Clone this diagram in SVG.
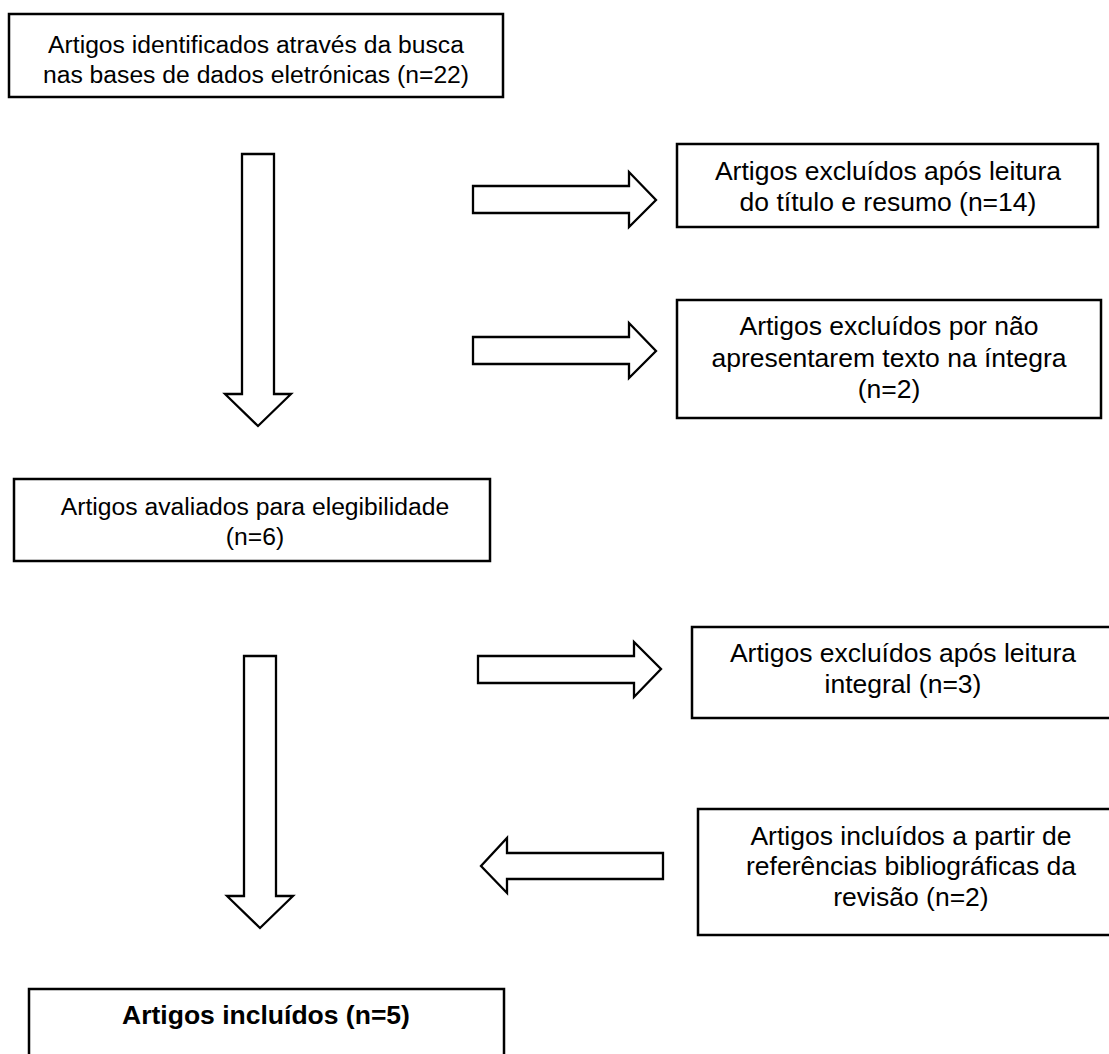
<svg xmlns="http://www.w3.org/2000/svg" width="1109" height="1054" viewBox="0 0 1109 1054">
  <style>
    .box { fill: #fff; stroke: #000; stroke-width: 2.5; }
    .arrow { fill: #fff; stroke: #000; stroke-width: 2.3; stroke-linejoin: miter; }
    text { font-family: "Liberation Sans", Arial, sans-serif; fill: #000; text-anchor: middle; }
    .main { font-size: 24.7px; }
    .side { font-size: 26.5px; }
    .bold { font-size: 26.5px; font-weight: bold; }
  </style>
  <rect width="1109" height="1054" fill="#fff"/>

  <!-- block arrows -->
  <g id="connectors">
    <!-- main flow, first stage -->
    <path class="arrow" d="M242,154 L274,154 L274,394 L291,394 L258,426 L225,394 L242,394 Z"/>
    <!-- exclusions, first stage -->
    <path class="arrow" d="M473,186 L629,186 L629,172 L656,200 L629,227 L629,213 L473,213 Z"/>
    <path class="arrow" d="M473,337 L629,337 L629,323 L656,351 L629,378 L629,364 L473,364 Z"/>
    <!-- main flow, second stage -->
    <path class="arrow" d="M244,656 L276,656 L276,896 L293,896 L260,928 L227,896 L244,896 Z"/>
    <!-- exclusion, second stage -->
    <path class="arrow" d="M478,656 L634,656 L634,642 L661,669 L634,697 L634,683 L478,683 Z"/>
    <!-- added from references -->
    <path class="arrow" d="M663,853 L507,853 L507,838 L481,866 L507,893 L507,879 L663,879 Z"/>
  </g>

  <g id="identified">
    <rect class="box" x="9" y="14" width="494" height="83"/>
    <text class="main" x="256" y="53">Artigos identificados através da busca</text>
    <text class="main" x="256" y="83">nas bases de dados eletrónicas (n=22)</text>
  </g>

  <g id="excluded-title">
    <rect class="box" x="677" y="144" width="421" height="83"/>
    <text class="side" x="888" y="180">Artigos excluídos após leitura</text>
    <text class="side" x="888" y="211">do título e resumo (n=14)</text>
  </g>

  <g id="excluded-fulltext">
    <rect class="box" x="677" y="300" width="424" height="118"/>
    <text class="side" x="889" y="335">Artigos excluídos por não</text>
    <text class="side" x="889" y="367">apresentarem texto na íntegra</text>
    <text class="side" x="889" y="398">(n=2)</text>
  </g>

  <g id="eligible">
    <rect class="box" x="14" y="479" width="476" height="82"/>
    <text class="main" x="255" y="515">Artigos avaliados para elegibilidade</text>
    <text class="main" x="255" y="545">(n=6)</text>
  </g>

  <g id="excluded-reading">
    <rect class="box" x="692" y="627" width="422" height="91"/>
    <text class="side" x="903" y="662">Artigos excluídos após leitura</text>
    <text class="side" x="903" y="693">integral (n=3)</text>
  </g>

  <g id="added-references">
    <rect class="box" x="698" y="809" width="424" height="126"/>
    <text class="side" x="911" y="845">Artigos incluídos a partir de</text>
    <text class="side" x="911" y="875">referências bibliográficas da</text>
    <text class="side" x="911" y="906">revisão (n=2)</text>
  </g>

  <g id="included">
    <rect class="box" x="29" y="989" width="475" height="80"/>
    <text class="bold" x="266" y="1024">Artigos incluídos (n=5)</text>
  </g>
</svg>
